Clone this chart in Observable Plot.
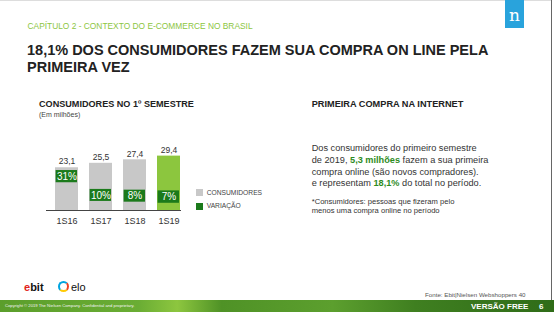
<!DOCTYPE html>
<html>
<head>
<meta charset="utf-8">
<script src="https://cdn.jsdelivr.net/npm/d3@7"></script>
<script src="https://cdn.jsdelivr.net/npm/@observablehq/plot@0.6"></script>
<style>
  html, body { margin: 0; padding: 0; background: #fff; }
  #slide { position: relative; width: 554px; height: 312px; overflow: hidden; background: #fff;
           font-family: "Liberation Sans", Arial, Helvetica, sans-serif; color: #222; }
  .abs { position: absolute; white-space: nowrap; }
  #chart { position: absolute; left: 0; top: 120px; }
  .sw { position: absolute; width: 7px; height: 7px; }
</style>
</head>
<body>
<div id="slide">
  <div class="abs" style="left:0;top:0;width:551px;height:1px;background:#ddd"></div>
  <div class="abs" style="left:551px;top:0;width:1px;height:300px;background:#666"></div>
  <div class="abs" style="left:505px;top:0;width:19px;height:28px;background:#29a3dc;color:#fff;font-family:'DejaVu Serif',serif;font-size:17px;line-height:30px;text-align:center">n</div>

  <div class="abs" style="left:27.5px;top:21.3px;font-size:8.4px;line-height:10px;color:#8dc63f">CAPÍTULO 2 - CONTEXTO DO E-COMMERCE NO BRASIL</div>
  <div class="abs" style="left:27px;top:41.6px;font-size:14.5px;line-height:17.7px;font-weight:bold;color:#222">18,1% DOS CONSUMIDORES FAZEM SUA COMPRA ON LINE PELA<br>PRIMEIRA VEZ</div>

  <div class="abs" style="left:39px;top:99.2px;font-size:9.1px;line-height:10px;font-weight:bold;color:#222">CONSUMIDORES NO 1º SEMESTRE</div>
  <div class="abs" style="left:39px;top:110px;font-size:7px;line-height:9px;color:#444">(Em milhões)</div>

  <div id="chart"></div>

  <div class="sw" style="left:196px;top:189.3px;background:#c8c8c8"></div>
  <div class="abs" style="left:206.7px;top:188.7px;font-size:6.7px;line-height:8px;color:#444">CONSUMIDORES</div>
  <div class="sw" style="left:196px;top:202.7px;background:#1b7a1b"></div>
  <div class="abs" style="left:206.7px;top:202px;font-size:6.7px;line-height:8px;color:#444">VARIAÇÃO</div>

  <div class="abs" style="left:311.7px;top:99px;font-size:9.2px;line-height:10px;font-weight:bold;color:#222">PRIMEIRA COMPRA NA INTERNET</div>
  <div class="abs" style="left:311.7px;top:143.1px;font-size:9.2px;line-height:11.8px;color:#333">Dos consumidores do primeiro semestre<br>de 2019, <b style="color:#2e8b1e">5,3 milhões</b> fazem a sua primeira<br>compra online (são novos compradores).<br>e representam <b style="color:#2e8b1e">18,1%</b> do total no período.</div>
  <div class="abs" style="left:311.7px;top:198.1px;font-size:7.6px;line-height:8.4px;color:#333">*Consumidores: pessoas que fizeram pelo<br>menos uma compra online no período</div>

  <div class="abs" style="left:24px;top:281px;font-size:11px;line-height:13px;font-weight:bold;color:#111"><span style="color:#e2231a">e</span>bit</div>
  <div class="abs" style="left:58px;top:281px;font-size:11px;line-height:13px;color:#111"><span style="display:inline-block;width:7px;height:7px;border-radius:50%;border:2px solid #00a4e0;border-right-color:#ef4123;border-bottom-color:#ffcb05;vertical-align:-1px;margin-right:2px"></span>elo</div>
  <div class="abs" style="left:425px;top:290.5px;font-size:6.2px;line-height:8px;color:#555">Fonte: Ebit|Nielsen Webshoppers 40</div>

  <div class="abs" style="left:0;top:300px;width:554px;height:12px;background:linear-gradient(90deg,#5b9e2b 0%,#6aad34 25%,#8dc63f 32%,#4f9226 40%,#5c9f2e 60%,#3f7f20 75%,#2f6c18 100%)"></div>
  <div class="abs" style="left:5px;top:302.5px;font-size:4.2px;line-height:5px;color:#f2f2f2">Copyright © 2019 The Nielsen Company. Confidential and proprietary.</div>
  <div class="abs" style="left:471px;top:301.5px;font-size:8px;line-height:9px;font-weight:bold;color:#fff">VERSÃO FREE</div>
  <div class="abs" style="left:539px;top:301.5px;font-size:8px;line-height:9px;font-weight:bold;color:#fff">6</div>
</div>
<script>
// ---- data ----
const periodos = ["1S16", "1S17", "1S18", "1S19"];
const consumidores = [23.1, 25.5, 27.4, 29.4];      // milhões
const variacao = ["31%", "10%", "8%", "7%"];
// placement of the "variação" boxes inside each bar (in data units)
const faixaInicio = [15.0, 4.9, 4.5, 3.9];
const faixaFim = [21.6, 11.4, 11.0, 10.6];

const cinza = "#c8c8c8", verdeClaro = "#8cc63e", verdeEscuro = "#1b7a1b";

const rows = periodos.map((p, i) => ({
  periodo: p,
  consumidores: consumidores[i],
  variacao: variacao[i],
  y1: faixaInicio[i],
  y2: faixaFim[i]
}));

const chart = Plot.plot({
  width: 280,
  height: 110,
  marginLeft: 46,
  marginRight: 99,
  marginTop: 16,
  marginBottom: 20,
  style: {fontFamily: "'Liberation Sans', Arial, sans-serif", background: "transparent", color: "#333", overflow: "visible"},
  x: {domain: periodos, paddingInner: 0.314, paddingOuter: 0.0857, align: 0.95},
  y: {domain: [0, 40], axis: null},
  marks: [
    Plot.barY(rows, {x: "periodo", y: "consumidores", fill: d => d.periodo === "1S19" ? verdeClaro : cinza}),
    Plot.barY(rows, {x: "periodo", y1: "y1", y2: "y2", fill: verdeEscuro, insetLeft: 0.6, insetRight: 1}),
    Plot.text(rows, {x: "periodo", y: d => (d.y1 + d.y2) / 2, text: "variacao", fill: "#fff", fontSize: 10}),
    Plot.text(rows, {x: "periodo", y: "consumidores", text: d => String(d.consumidores).replace(".", ","), dy: -6, fontSize: 8.5, fill: "#333"}),
    Plot.ruleY([0], {stroke: "#444", strokeWidth: 1.2}),
    Plot.axisX({tickSize: 0, tickPadding: 7, fontSize: 9, label: null})
  ]
});
document.getElementById("chart").appendChild(chart);
</script>
</body>
</html>
